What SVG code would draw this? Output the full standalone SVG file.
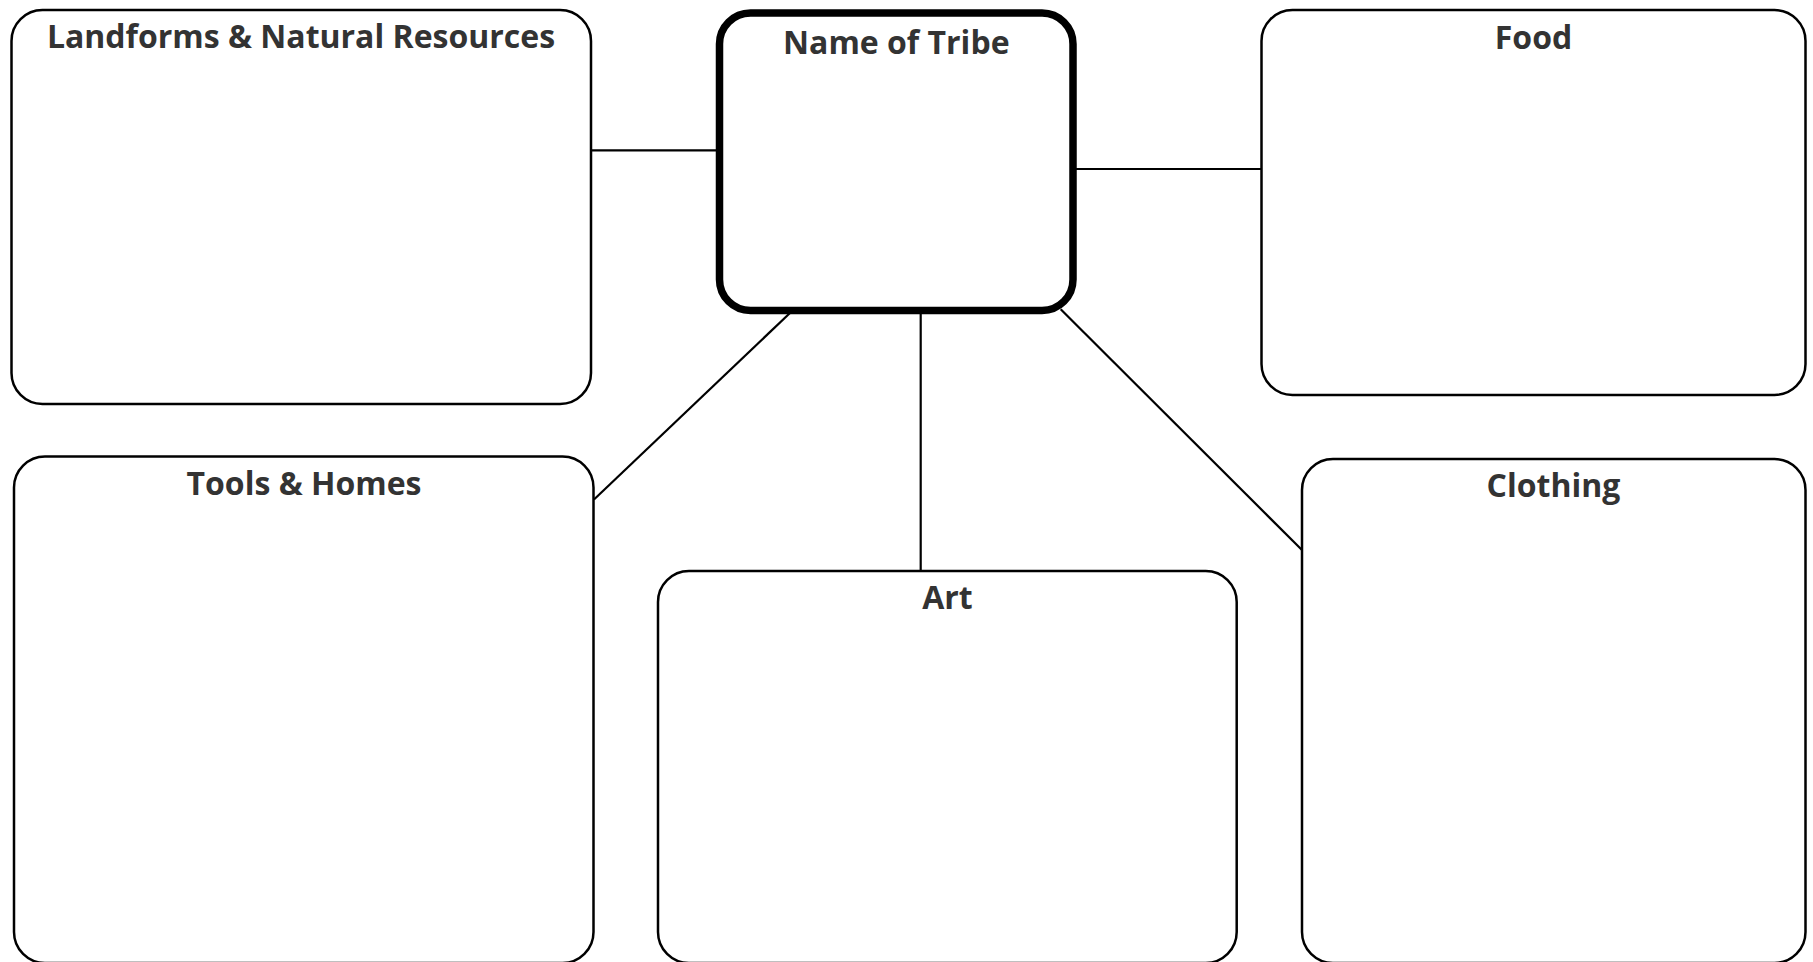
<svg xmlns="http://www.w3.org/2000/svg" width="1813" height="962" viewBox="0 0 1813 962">
  <style>
    .box { fill: #ffffff; stroke: #000000; stroke-width: 2.5; }
    .main { fill: #ffffff; stroke: #000000; stroke-width: 7.5; }
    .conn { stroke: #000000; stroke-width: 2.2; fill: none; }
    .label { font-family: "Open Sans", "Noto Sans", "Liberation Sans", sans-serif; font-weight: 700; font-size: 32px; fill: #333333; text-anchor: middle; }
  </style>
  <rect x="0" y="0" width="1813" height="962" fill="#ffffff"/>
  <g id="connectors">
    <line class="conn" x1="591" y1="150.3" x2="717" y2="150.3"/>
    <line class="conn" x1="1075" y1="169" x2="1261.5" y2="169"/>
    <line class="conn" x1="790" y1="313" x2="594" y2="499.5"/>
    <line class="conn" x1="920.7" y1="313" x2="920.7" y2="571"/>
    <line class="conn" x1="1060.7" y1="309.3" x2="1302" y2="550"/>
  </g>
  <g id="node-landforms">
    <rect class="box" x="11.5" y="10" width="579.5" height="394" rx="31" ry="31"/>
    <text class="label" x="301" y="48">Landforms &amp; Natural Resources</text>
  </g>
  <g id="node-tribe">
    <rect class="main" x="719.5" y="13" width="353.5" height="297.5" rx="31" ry="31"/>
    <text class="label" x="896.3" y="54">Name of Tribe</text>
  </g>
  <g id="node-food">
    <rect class="box" x="1261.5" y="10" width="544" height="385" rx="31" ry="31"/>
    <text class="label" x="1533.5" y="49">Food</text>
  </g>
  <g id="node-tools">
    <rect class="box" x="14" y="456.5" width="579.5" height="506.5" rx="31" ry="31"/>
    <text class="label" x="304" y="495">Tools &amp; Homes</text>
  </g>
  <g id="node-art">
    <rect class="box" x="658" y="571" width="578.7" height="392" rx="31" ry="31"/>
    <text class="label" x="947.5" y="609">Art</text>
  </g>
  <g id="node-clothing">
    <rect class="box" x="1302" y="459" width="503.5" height="504" rx="31" ry="31"/>
    <text class="label" x="1553.5" y="497">Clothing</text>
  </g>
</svg>
